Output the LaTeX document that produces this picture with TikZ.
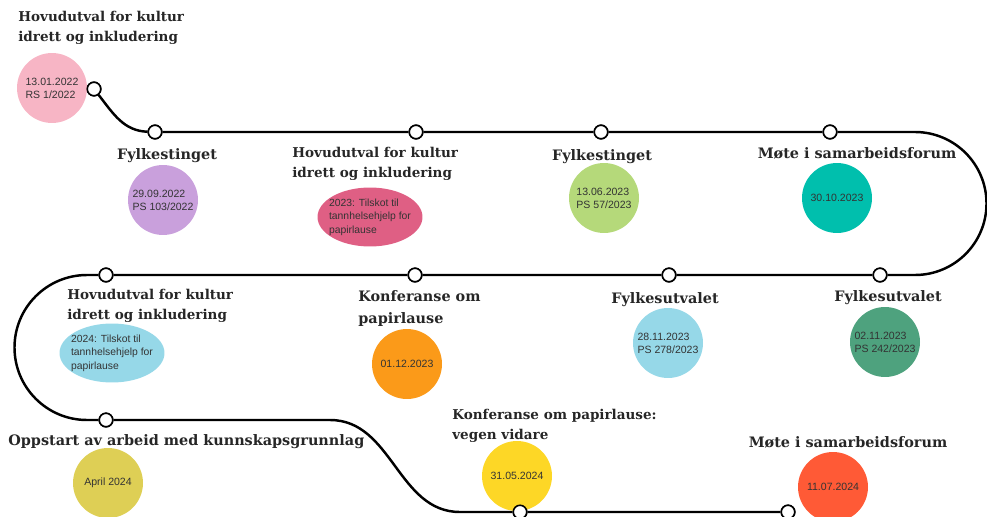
\documentclass[tikz,border=0pt]{standalone}
\usepackage{fontspec}
\setmainfont{DejaVu Serif}
\setsansfont{Liberation Sans}
\usetikzlibrary{shapes.geometric}
\definecolor{cpink}{HTML}{F7B5C5}
\definecolor{cpurple}{HTML}{C9A0DC}
\definecolor{ccrimson}{HTML}{DF5F84}
\definecolor{cgreen}{HTML}{B5D97A}
\definecolor{cteal}{HTML}{00BFAD}
\definecolor{clblue}{HTML}{96D8E8}
\definecolor{corange}{HTML}{FB9A19}
\definecolor{cdgreen}{HTML}{4EA27E}
\definecolor{colive}{HTML}{DECF55}
\definecolor{cyellow}{HTML}{FDD726}
\definecolor{cred}{HTML}{FF5A36}
\begin{document}
\begin{tikzpicture}[x=0.02cm,y=-0.02cm,
track/.style={line width=1.4pt},
dot/.style={circle,draw,fill=white,line width=0.9pt,minimum size=0.27cm,inner sep=0pt},
big/.style={font=\bfseries\fontsize{8.2}{12.5}\selectfont,align=left,inner sep=0pt,text=black!85},
small/.style={font=\bfseries\fontsize{7.7}{11}\selectfont,align=left,inner sep=0pt,text=black!85},
disc/.style={circle,fill=#1,minimum size=1.4cm,inner sep=0pt,align=left,text=black!80,font=\sffamily\fontsize{6}{7.5}\selectfont},
oval/.style={ellipse,fill=#1,minimum width=2.1cm,minimum height=1.18cm,inner xsep=-2.6pt,inner ysep=0pt,align=left,text=black!80,font=\sffamily\fontsize{5.9}{7.6}\selectfont}]
\useasboundingbox(0,0)rectangle(987,517);
\node[dot](d1)at(94,89){};
\node[dot](d2)at(155,132){};
\node[dot](d3)at(416,132){};
\node[dot](d4)at(601,132){};
\node[dot](d5)at(830,132){};
\node[dot](d6)at(880,275){};
\node[dot](d7)at(669,275){};
\node[dot](d8)at(415,275){};
\node[dot](d9)at(106,275){};
\node[dot](d10)at(106,420){};
\node[dot](d11)at(520,512){};
\node[dot](d12)at(788,512){};
\coordinate(rt)at(915,132);
\coordinate(lt)at(87,275);
\coordinate(sa)at(330,420);
\coordinate(sb)at(460,512);
\draw[track](d1)to[out=-52,in=178](d2)--(d3)--(d4)--(d5)--(rt)arc[start angle=-90,end angle=90,radius=71.5]--(d6)--(d7)--(d8)--(d9)--(lt)arc[start angle=-90,end angle=-270,radius=72.5]--(d10)--(sa)to[out=0,in=180](sb)--(d11)--(d12);
\node[disc=cpink](b1)at(52,88){13.01.2022\\RS 1/2022};
\node[disc=cpurple](b2)at(163,200){29.09.2022\\PS 103/2022};
\node[oval=ccrimson](b3)at(370,217){2023: Tilskot til\\tannhelsehjelp for\\papirlause};
\node[disc=cgreen](b4)at(604,198){13.06.2023\\PS 57/2023};
\node[disc=cteal](b5)at(837,198){30.10.2023};
\node[disc=cdgreen](b6)at(885,342){02.11.2023\\PS 242/2023};
\node[disc=clblue](b7)at(668,343){28.11.2023\\PS 278/2023};
\node[disc=corange](b8)at(407,364){01.12.2023};
\node[oval=clblue](b9)at(112,353){2024: Tilskot til\\tannhelsehjelp for\\papirlause};
\node[disc=colive](b10)at(108,483){April 2024};
\node[disc=cyellow](b11)at(517,476){31.05.2024};
\node[disc=cred](b12)at(833,487){11.07.2024};
\foreach \n in {d1,d2,d3,d4,d5,d6,d7,d8,d9,d10,d11,d12}{\node[dot]at(\n){};}
\node[small,anchor=west](h1)at(18,28){Hovudutval for kultur\\idrett og inkludering};
\node[big](h2)at(167,156){Fylkestinget};
\node[small,anchor=west](h3)at(292,164){Hovudutval for kultur\\idrett og inkludering};
\node[big](h4)at(602,157){Fylkestinget};
\node[big](h5)at(857,153){Møte i samarbeidsforum};
\node[big](h6)at(888,298){Fylkesutvalet};
\node[big](h7)at(665,300){Fylkesutvalet};
\node[big,anchor=west](h8)at(358,309){Konferanse om\\papirlause};
\node[small,anchor=west](h9)at(67,306){Hovudutval for kultur\\idrett og inkludering};
\node[big,anchor=west](h10)at(8,442){Oppstart av arbeid med kunnskapsgrunnlag};
\node[small,anchor=west](h11)at(452,426){Konferanse om papirlause:\\vegen vidare};
\node[big](h12)at(848,442){Møte i samarbeidsforum};
\end{tikzpicture}
\end{document}
